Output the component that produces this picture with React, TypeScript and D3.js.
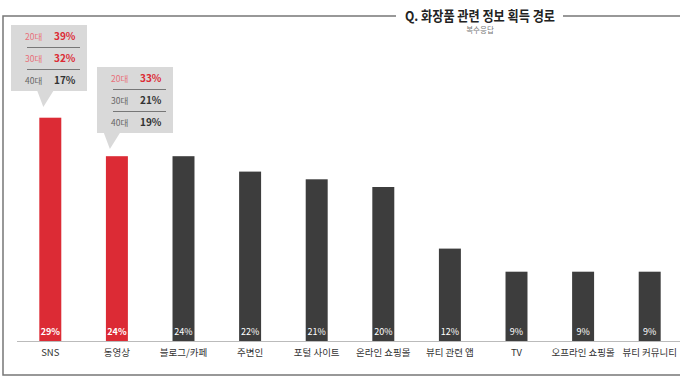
import React from "react";
import * as d3 from "d3";

const categories = ["SNS", "동영상", "블로그/카페", "주변인", "포털 사이트", "온라인 쇼핑몰", "뷰티 관련 앱", "TV", "오프라인 쇼핑몰", "뷰티 커뮤니티"];
const values = [29, 24, 24, 22, 21, 20, 12, 9, 9, 9];
const highlighted = ["SNS", "동영상"];

const ageGroups = ["20대", "30대", "40대"];
const snsByAge = [39, 32, 17];
const videoByAge = [33, 21, 19];

const W = 680;
const H = 389;
const RED = "#dc2b35";
const DARK = "#3d3d3d";
const FONT = "'Noto Sans CJK KR', 'Noto Sans', sans-serif";

const xScale = d3.scaleBand().domain(categories).range([17, 683]).paddingInner(0.67).paddingOuter(0.335);
const yScale = d3.scaleLinear().domain([0, 40]).range([341, 33]);

type Callout = { cat: string; vals: number[]; redRows: number; box: [number, number] };
const callouts: Callout[] = [
  { cat: "SNS", vals: snsByAge, redRows: 2, box: [11, 25] },
  { cat: "동영상", vals: videoByAge, redRows: 1, box: [97, 67] },
];

export default function App() {
  const bw = xScale.bandwidth();
  return (
    <svg width={W} height={H} style={{ position: "absolute", left: 0, top: 0, fontFamily: FONT }}>
      <rect width={W} height={H} fill="#fff" />
      {/* frame with title gap */}
      <path d={`M${W} 16 H563 M396 16 H3 V375 H${W}`} fill="none" stroke="#777" strokeWidth={1.5} />
      <text x={480} y={21} textAnchor="middle" fontSize={13.5} fontWeight={700} fill="#222"
        textLength={150} lengthAdjust="spacingAndGlyphs">Q. 화장품 관련 정보 획득 경로</text>
      <text x={480} y={33} textAnchor="middle" fontSize={7.5} fill="#777">복수응답</text>

      {/* axis line */}
      <line x1={17} x2={W} y1={341.5} y2={341.5} stroke="#bbb" strokeWidth={1} />

      {categories.map((c, i) => {
        const x = xScale(c)!;
        const red = highlighted.includes(c);
        return (
          <g key={c}>
            <rect x={x} y={yScale(values[i])} width={bw} height={yScale(0) - yScale(values[i])} fill={red ? RED : DARK} />
            <text x={x + bw / 2} y={335} textAnchor="middle" fontSize={9} fontWeight={red ? 700 : 400} fill="#fff">{values[i]}%</text>
            <text x={x + bw / 2} y={356} textAnchor="middle" fontSize={9.5} fill="#333">{c}</text>
          </g>
        );
      })}

      {callouts.map(co => {
        const [bx, by] = co.box;
        const cx = xScale(co.cat)! + bw / 2;
        const bwid = 76;
        const bh = 66;
        const rowH = bh / 3;
        return (
          <g key={co.cat}>
            <path d={`M${cx - 13} ${by + bh} L${cx - 7} ${by + bh + 16} L${cx + 3} ${by + bh} Z`} fill="#d9d9d9" />
            <rect x={bx} y={by} width={bwid} height={bh} fill="#d9d9d9" />
            {ageGroups.map((a, j) => {
              const red = j < co.redRows;
              const ty = by + rowH * j + rowH / 2 + 3.5;
              return (
                <g key={a}>
                  <text x={bx + 14} y={ty} fontSize={8.5} fill={red ? "#e8707a" : "#666"}>{a}</text>
                  <text x={bx + 43} y={ty} fontSize={10} fontWeight={700} fill={red ? RED : "#333"}>{co.vals[j]}%</text>
                  {j < 2 && <line x1={bx + 16} x2={bx + 69} y1={by + rowH * (j + 1) + 0.5} y2={by + rowH * (j + 1) + 0.5} stroke="#777" strokeWidth={1} />}
                </g>
              );
            })}
          </g>
        );
      })}
    </svg>
  );
}
